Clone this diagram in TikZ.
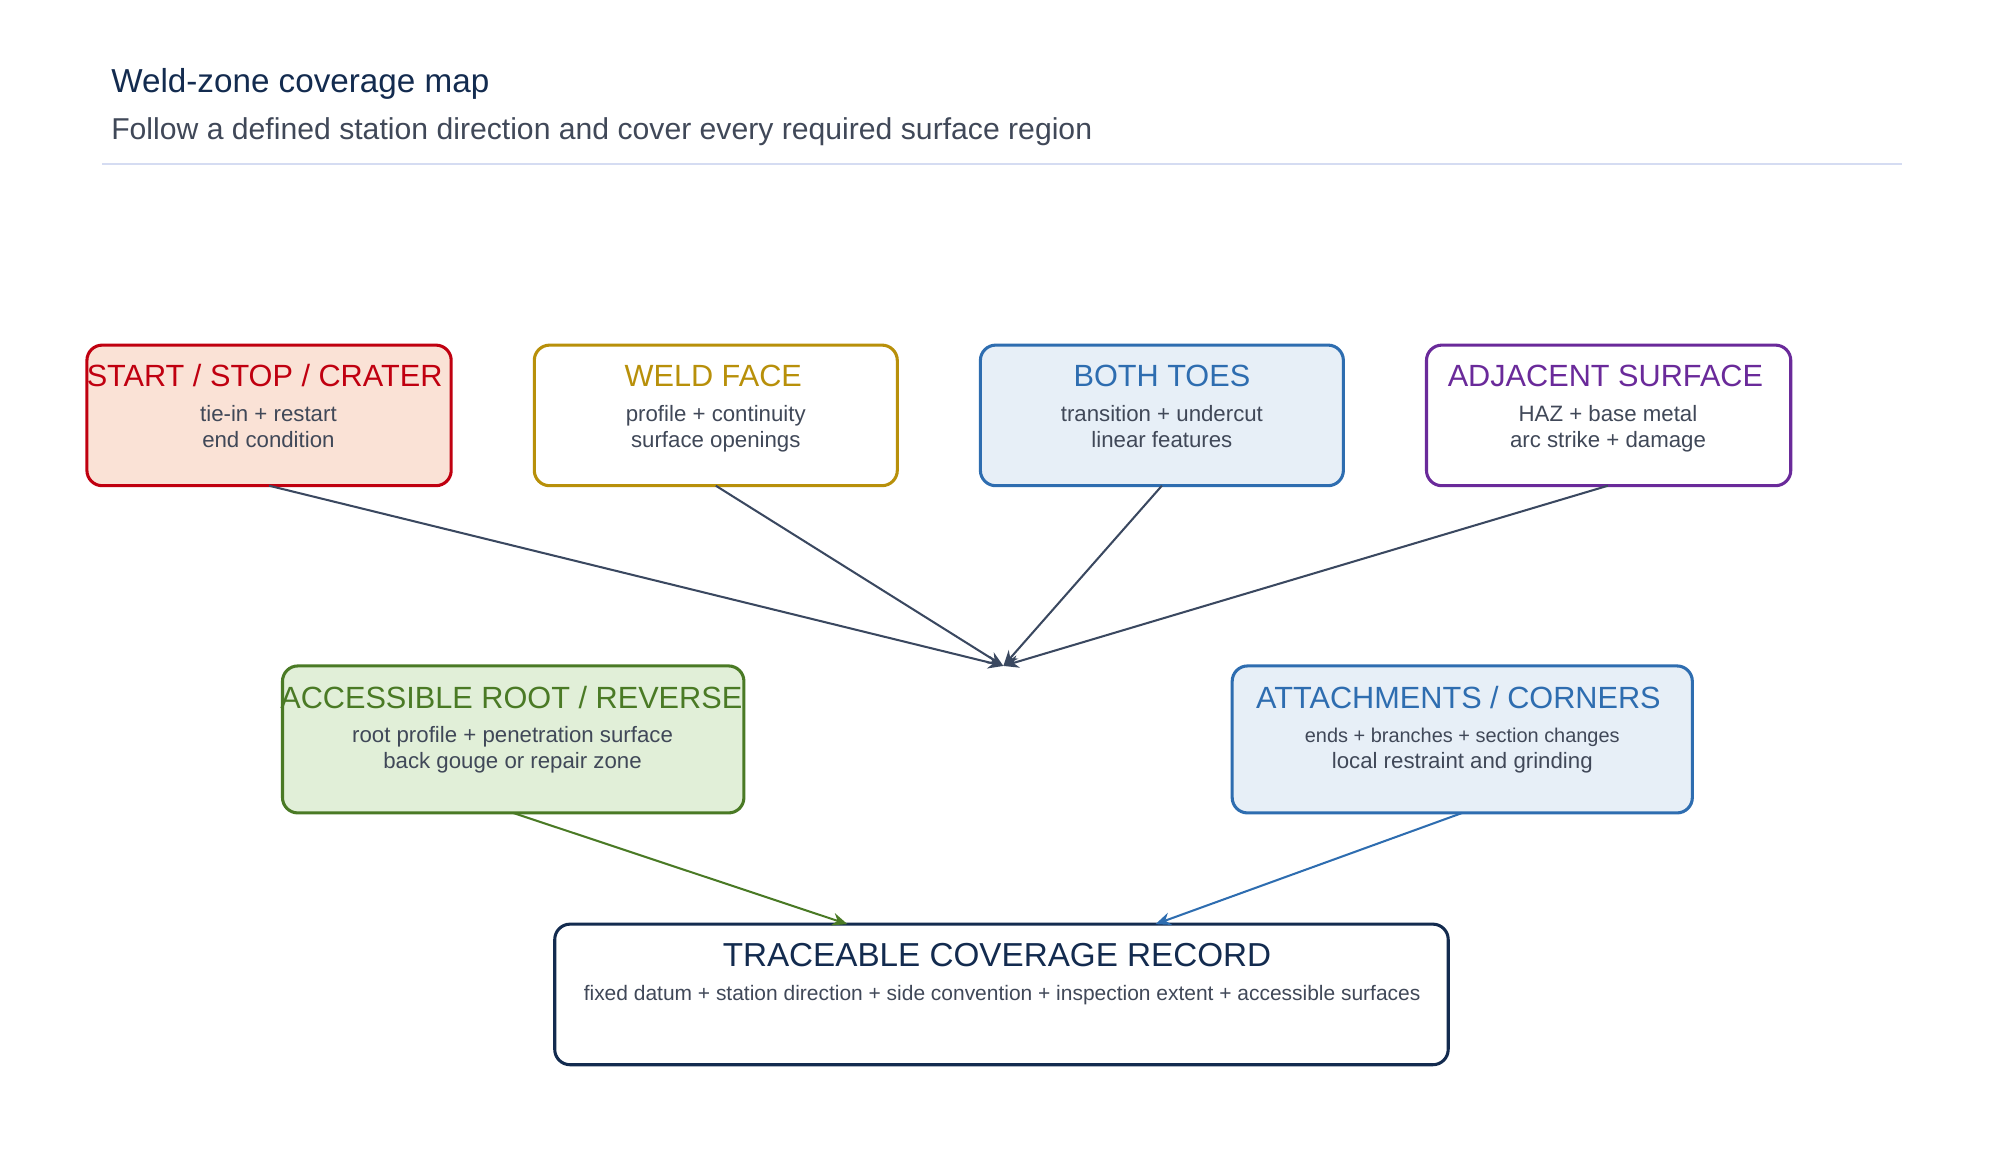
\documentclass[tikz,border=0pt]{standalone}
\usepackage{fontspec}
\setmainfont{Liberation Sans}
\usetikzlibrary{arrows.meta}
\definecolor{cred}{HTML}{C00010}\definecolor{fred}{HTML}{FAE2D6}
\definecolor{cgold}{HTML}{B8900A}
\definecolor{cblue}{HTML}{2E6DB0}\definecolor{fblue}{HTML}{E7EFF7}
\definecolor{cpur}{HTML}{6A2A9A}
\definecolor{cgreen}{HTML}{4A7A25}\definecolor{fgreen}{HTML}{E1EFD8}
\definecolor{cnavy}{HTML}{132B4F}
\definecolor{carrow}{HTML}{3A4860}
\definecolor{ctext}{HTML}{404858}
\definecolor{crule}{HTML}{D5DCF2}
\begin{document}
\begin{tikzpicture}[x=0.5pt,y=-0.5pt,
  box/.style={draw,line width=1.2pt,rounded corners=6pt},
  hd/.style={font=\fontsize{12}{14}\selectfont,anchor=base},
  bd/.style={font=\fontsize{8.7}{10.4}\selectfont,text=ctext,align=center,anchor=base},
  arr/.style={-{Stealth[length=6pt,width=5pt]},line width=0.8pt,carrow}]
\useasboundingbox (0,0) rectangle (1560,908);
\node[anchor=base west,font=\fontsize{13}{15}\selectfont,text=cnavy] (title) at (80,72) {Weld-zone coverage map};
\node[anchor=base west,font=\fontsize{11.8}{14}\selectfont,text=ctext] (sub) at (80,109) {Follow a defined station direction and cover every required surface region};
\draw[crule,line width=0.8pt] (80,128) -- (1488,128);
% boxes
\draw[box,cred,fill=fred] (68,270) rectangle (353,380);
\node (a) at (210.5,380) {};
\node[hd,text=cred] at (207,302) {START / STOP / CRATER};
\node[bd] at (210,330) {tie-in + restart};
\node[bd] at (210,350) {end condition};
\draw[box,cgold,fill=white] (418,270) rectangle (702,380);
\node (b) at (560,380) {};
\node[hd,text=cgold] at (558,302) {WELD FACE};
\node[bd] at (560,330) {profile + continuity};
\node[bd] at (560,350) {surface openings};
\draw[box,cblue,fill=fblue] (767,270) rectangle (1051,380);
\node (c) at (909,380) {};
\node[hd,text=cblue] at (909,302) {BOTH TOES};
\node[bd] at (909,330) {transition + undercut};
\node[bd] at (909,350) {linear features};
\draw[box,cpur,fill=white] (1116,270) rectangle (1401,380);
\node (d) at (1258,380) {};
\node[hd,text=cpur] at (1256,302) {ADJACENT SURFACE};
\node[bd] at (1258,330) {HAZ + base metal};
\node[bd] at (1258,350) {arc strike + damage};
\draw[box,cgreen,fill=fgreen] (221,521) rectangle (582,636);
\node (e) at (401.5,636) {};
\node[hd,text=cgreen] at (400,554) {ACCESSIBLE ROOT / REVERSE};
\node[bd] at (401,581) {root profile + penetration surface};
\node[bd] at (401,601) {back gouge or repair zone};
\draw[box,cblue,fill=fblue] (964,521) rectangle (1324,636);
\node (f) at (1144,636) {};
\node[hd,text=cblue] at (1141,554) {ATTACHMENTS / CORNERS};
\node[bd,font=\fontsize{7.8}{9}\selectfont] at (1144,581) {ends + branches + section changes};
\node[bd] at (1144,601) {local restraint and grinding};
\draw[box,cnavy,fill=white] (434,723) rectangle (1133,833);
\node[hd,text=cnavy,font=\fontsize{13}{15}\selectfont] at (780,756) {TRACEABLE COVERAGE RECORD};
\node[bd,font=\fontsize{8.2}{10}\selectfont] at (784,783) {fixed datum + station direction + side convention + inspection extent + accessible surfaces};
\coordinate (m) at (785,521);
\coordinate (g) at (663,723);
\coordinate (h) at (904,723);
\draw[arr] (a.center) -- (m);
\draw[arr] (b.center) -- (m);
\draw[arr] (c.center) -- (m);
\draw[arr] (d.center) -- (m);
\draw[arr,cgreen] (e.center) -- (g);
\draw[arr,cblue] (f.center) -- (h);
\end{tikzpicture}
\end{document}
